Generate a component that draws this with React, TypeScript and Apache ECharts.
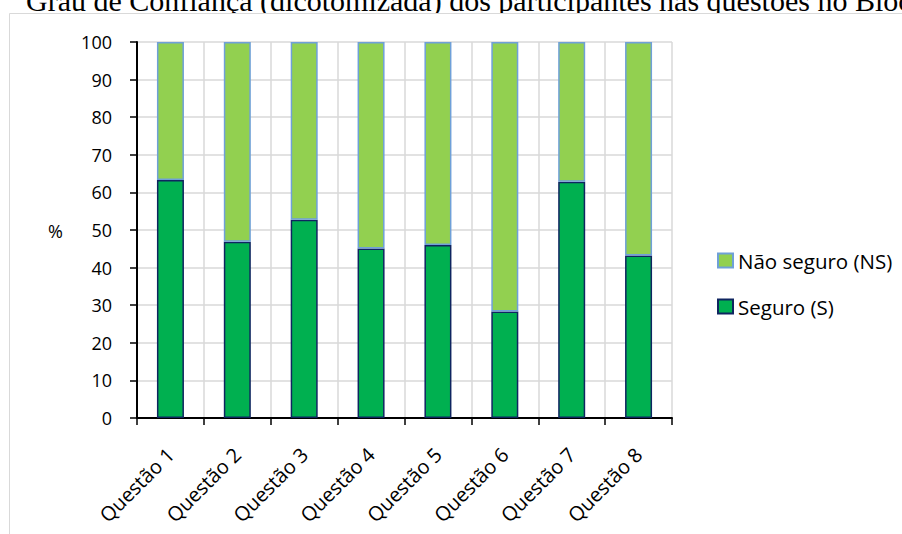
import React, { useEffect, useRef } from "react";
import * as echarts from "echarts";

const categories = ["Questão 1", "Questão 2", "Questão 3", "Questão 4", "Questão 5", "Questão 6", "Questão 7", "Questão 8"];
const seguro = [63.3, 46.9, 52.7, 45.1, 46.0, 28.3, 62.8, 43.2];
const naoSeguro = [36.7, 53.1, 47.3, 54.9, 54.0, 71.7, 37.2, 56.8];
const seriesNames = ["Não seguro (NS)", "Seguro (S)"];
const titleText = "Grau de Confiança (dicotomizada) dos participantes nas questões no Bloco";

const FONT = "'Open Sans', 'Noto Sans', sans-serif";

export default function App() {
  const ref = useRef<HTMLDivElement>(null);
  useEffect(() => {
    if (!ref.current) return;
    const chart = echarts.init(ref.current, null, { renderer: "svg" });
    chart.setOption({
      animation: false,
      backgroundColor: "#ffffff",
      graphic: [
        {
          type: "text",
          x: 26,
          y: 0,
          z: -20,
          style: {
            text: titleText,
            font: "30px 'Liberation Serif', 'Times New Roman', serif",
            fill: "#000",
            verticalAlign: "middle",
          },
        },
        {
          type: "rect",
          z: -10,
          shape: { x: 9.5, y: 13.5, width: 900, height: 530 },
          style: { fill: "#ffffff", stroke: "#d9d9d9", lineWidth: 1 },
        },
        {
          type: "text",
          x: 48,
          y: 231,
          style: {
            text: "%",
            font: `18px ${FONT}`,
            fill: "#000",
            verticalAlign: "middle",
          },
        },
      ],
      legend: {
        orient: "vertical",
        left: 712,
        top: 245,
        itemWidth: 15,
        itemHeight: 14,
        itemGap: 25,
        icon: "rect",
        data: seriesNames,
        textStyle: { fontFamily: FONT, fontSize: 20.5, color: "#000" },
      },
      grid: { left: 137, right: 230, top: 42, bottom: 116, containLabel: false },
      xAxis: {
        type: "category",
        data: categories,
        axisLine: { lineStyle: { color: "#000", width: 2 } },
        axisTick: { show: true, interval: 0, length: 7, lineStyle: { color: "#000", width: 1.5 } },
        splitLine: { show: true, interval: 0, lineStyle: { color: "#d9d9d9", width: 1.5 } },
        axisLabel: {
          interval: 0,
          rotate: 45,
          margin: 33,
          fontFamily: FONT,
          fontSize: 20,
          color: "#000",
        },
      },
      yAxis: {
        type: "value",
        min: 0,
        max: 100,
        interval: 10,
        axisLine: { show: true, lineStyle: { color: "#000", width: 2 } },
        axisTick: { show: true, length: 7, lineStyle: { color: "#000", width: 1.5 } },
        splitLine: { show: true, lineStyle: { color: "#d9d9d9", width: 1.5 } },
        axisLabel: { margin: 25, fontFamily: FONT, fontSize: 18, color: "#000" },
      },
      series: [
        {
          name: seriesNames[1],
          type: "bar",
          stack: "total",
          barWidth: 27,
          data: seguro,
          itemStyle: { color: "#00b050", borderColor: "#0f2560", borderWidth: 1.5 },
        },
        {
          name: seriesNames[0],
          type: "bar",
          stack: "total",
          barWidth: 27,
          data: naoSeguro,
          itemStyle: { color: "#92d050", borderColor: "#6fa0d8", borderWidth: 1.5 },
        },
      ],
    });
    return () => chart.dispose();
  }, []);
  return <div ref={ref} style={{ position: "fixed", left: 0, top: 0, width: 902, height: 534 }} />;
}
